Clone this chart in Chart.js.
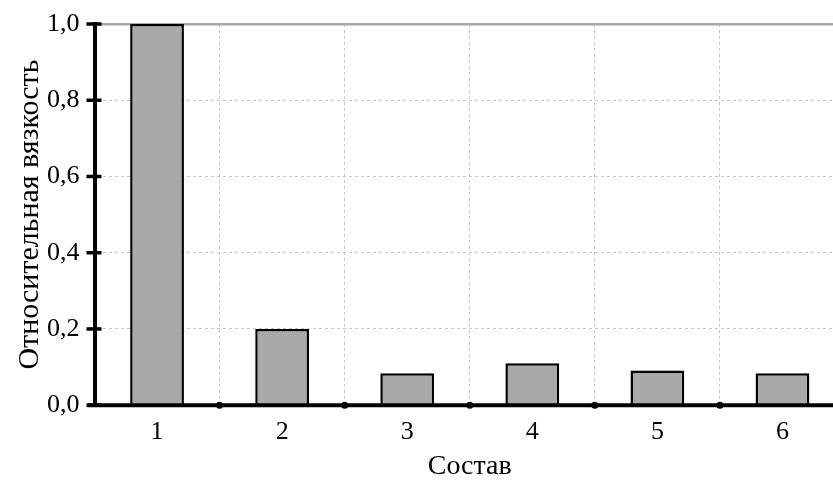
<!DOCTYPE html>
<html>
<head>
<meta charset="utf-8">
<script src="https://cdn.jsdelivr.net/npm/chart.js@4/dist/chart.umd.min.js"></script>
<style>
  html, body { margin: 0; padding: 0; background: #fff; overflow: hidden; }
  #wrap { width: 845px; height: 491px; }
</style>
</head>
<body>
<div id="wrap"><canvas id="viscChart"></canvas></div>
<script>
var labels = ['1', '2', '3', '4', '5', '6'];
var viscosity = [1.0, 0.2, 0.084, 0.11, 0.091, 0.084];
var yTicks = [0, 0.2, 0.4, 0.6, 0.8, 1.0];

var serif = "'Liberation Serif', 'DejaVu Serif', serif";

// tick marks crossing the axes, like in the original plot
var axisMarks = {
  id: 'axisMarks',
  afterDraw: function(chart) {
    var ctx = chart.ctx;
    var x = chart.scales.x, y = chart.scales.y;
    var area = chart.chartArea;
    ctx.save();
    ctx.strokeStyle = '#000';
    ctx.lineWidth = 4;
    ctx.beginPath();
    ctx.moveTo(area.left - 7, area.bottom);
    ctx.lineTo(area.right, area.bottom);
    ctx.stroke();
    ctx.lineWidth = 3.5;
    yTicks.forEach(function(v) {
      var py = y.getPixelForValue(v);
      ctx.beginPath();
      ctx.moveTo(area.left - 8, py);
      ctx.lineTo(area.left + 7, py);
      ctx.stroke();
    });
    ctx.fillStyle = '#000';
    for (var i = 1; i < labels.length; i++) {
      var px = (x.getPixelForValue(i - 1) + x.getPixelForValue(i)) / 2;
      ctx.beginPath();
      ctx.arc(px, area.bottom, 3.5, 0, Math.PI * 2);
      ctx.fill();
    }
    ctx.restore();
  }
};

var ctx = document.getElementById('viscChart').getContext('2d');
var viscChart = new Chart(ctx, {
  type: 'bar',
  data: {
    labels: labels,
    datasets: [{
      data: viscosity,
      backgroundColor: '#a9a9a9',
      borderColor: '#000',
      borderWidth: 2.5,
      borderSkipped: 'bottom',
      barPercentage: 0.43,
      categoryPercentage: 1.0
    }]
  },
  options: {
    responsive: true,
    maintainAspectRatio: false,
    animation: false,
    layout: { padding: { left: 12, top: 24, right: 0, bottom: 8 } },
    plugins: {
      legend: { display: false },
      tooltip: { enabled: false }
    },
    scales: {
      x: {
        offset: true,
        grid: {
          offset: true,
          drawTicks: false,
          color: '#c8c8c8',
          lineWidth: 1
        },
        border: { display: false, dash: [3, 3] },
        ticks: {
          color: '#000',
          padding: 11,
          font: { family: serif, size: 26 }
        },
        title: {
          display: true,
          text: 'Состав',
          color: '#000',
          padding: { top: -9, bottom: 0 },
          font: { family: serif, size: 28 }
        }
      },
      y: {
        min: 0,
        max: 1,
        afterBuildTicks: function(scale) {
          scale.ticks = yTicks.map(function(v) { return { value: v }; });
        },
        afterFit: function(scale) {
          scale.paddingTop = 0;
        },
        grid: {
          drawTicks: false,
          color: function(c) { return c.tick && c.tick.value === 1 ? '#a8a8a8' : (c.tick && c.tick.value === 0 ? 'rgba(0,0,0,0)' : '#c8c8c8'); },
          lineWidth: function(c) { return c.tick && c.tick.value === 1 ? 2.5 : 1; }
        },
        border: {
          display: true,
          color: '#000',
          width: 4,
          dash: function(c) { return c.tick && c.tick.value === 1 ? [] : [3, 3]; }
        },
        ticks: {
          color: '#000',
          padding: 15,
          font: { family: serif, size: 26 },
          callback: function(v) { return Number(v).toFixed(1).replace('.', ','); }
        },
        title: {
          display: true,
          text: 'Относительная вязкость',
          color: '#000',
          padding: { top: 0, bottom: -16 },
          font: { family: serif, size: 30 }
        }
      }
    }
  },
  plugins: [axisMarks]
});
</script>
</body>
</html>
